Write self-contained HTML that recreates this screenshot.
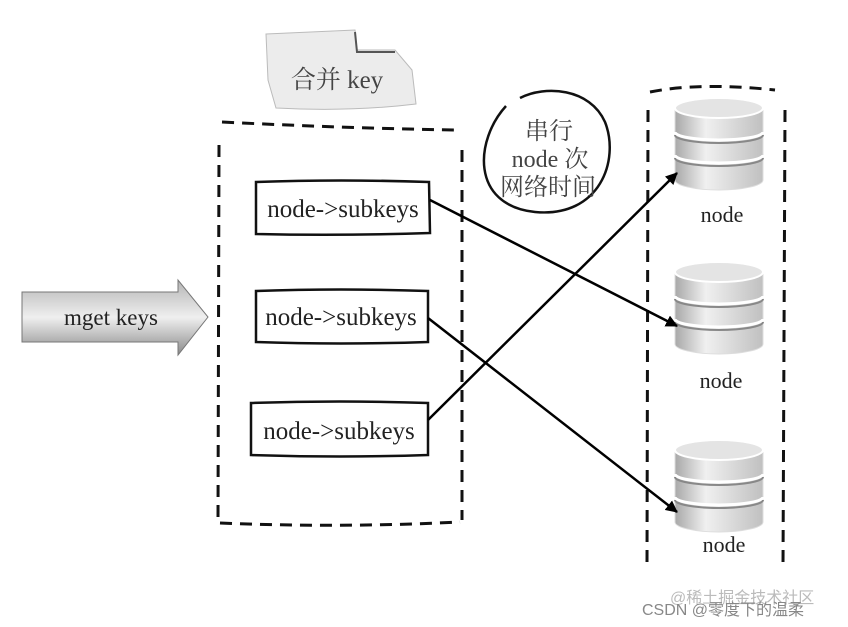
<!DOCTYPE html>
<html><head><meta charset="utf-8"><style>
body{margin:0;background:#fff;}
svg{display:block;}
.s{font-family:"Liberation Serif","Noto Serif CJK SC",serif;}
</style></head><body>
<svg width="848" height="627" viewBox="0 0 848 627" xmlns="http://www.w3.org/2000/svg">
<defs>
<linearGradient id="g" x1="0" x2="1" y1="0" y2="0">
<stop offset="0" stop-color="#a8a8a8"/><stop offset="0.35" stop-color="#f0f0f0"/><stop offset="1" stop-color="#c0c0c0"/>
</linearGradient>
<linearGradient id="ag" x1="0" x2="0" y1="0" y2="1">
<stop offset="0" stop-color="#b5b5b5"/><stop offset="0.5" stop-color="#efefef"/><stop offset="1" stop-color="#8a8a8a"/>
</linearGradient>
<marker id="m" markerWidth="12" markerHeight="12" refX="11" refY="6" orient="auto" markerUnits="userSpaceOnUse" viewBox="0 0 12 12">
<path d="M0,0 L12,6 L0,12 z" fill="#000"/>
</marker>
<g id="cyl">
<path d="M0,10 L0,82 A44,10 0 0 0 88,82 L88,10 Z" fill="url(#g)" stroke="#ddd"/>
<ellipse cx="44" cy="10" rx="44" ry="10" fill="#e4e4e4" stroke="#fff" stroke-width="2"/>
<path d="M0,34 A44,8 0 0 0 88,34" fill="none" stroke="#fff" stroke-width="3"/>
<path d="M0,37 A44,8 0 0 0 88,37" fill="none" stroke="#888" stroke-width="2"/>
<path d="M0,57 A44,8 0 0 0 88,57" fill="none" stroke="#fff" stroke-width="3"/>
<path d="M0,60 A44,8 0 0 0 88,60" fill="none" stroke="#888" stroke-width="2"/>
</g>
</defs>

<path d="M266,34 L355,30 L357,50 L395,50 L412,70 L416,104 Q350,112 276,108 L268,80 Z" fill="#ececec" stroke="#bbb"/>
<path d="M355,32 L357,52 L395,52" fill="none" stroke="#555" stroke-width="2"/>
<text x="337" y="88" class="s" font-size="25" fill="#444" text-anchor="middle">合并 key</text>

<g stroke="#111" stroke-width="3" stroke-dasharray="12,8" fill="none">
<path d="M222,122 Q340,128 455,130"/>
<path d="M219,145 L218,520"/>
<path d="M462,150 L462,520"/>
<path d="M220,523 Q340,528 460,522"/>
<path d="M650,92 Q700,82 775,90"/>
<path d="M648,110 L647,567"/>
<path d="M785,110 L783,567"/>
</g>

<g stroke="#111" stroke-width="2.5" fill="#fff">
<path d="M256,182 Q340,179 429,182 L430,233 Q340,236 256,234 Z"/>
<path d="M256,291 Q340,288 428,291 L428,342 Q340,345 256,342 Z"/>
<path d="M251,403 Q340,400 428,403 L428,455 Q340,458 251,455 Z"/>
</g>
<g class="s" font-size="25" fill="#222" text-anchor="middle">
<text x="343" y="217">node-&gt;subkeys</text>
<text x="341" y="325">node-&gt;subkeys</text>
<text x="339" y="439">node-&gt;subkeys</text>
</g>

<path d="M22,292 L178,292 L178,280 L208,317 L178,355 L178,342 L22,342 Z" fill="url(#ag)" stroke="#777"/>
<text x="111" y="325" class="s" font-size="23" fill="#222" text-anchor="middle">mget keys</text>

<path d="M506,106 C475,140 470,205 535,212 C600,218 620,160 605,122 C590,88 545,85 520,98" fill="none" stroke="#111" stroke-width="2.5"/>
<g class="s" font-size="24" fill="#444" text-anchor="middle">
<text x="549" y="139">串行</text>
<text x="550" y="167">node 次</text>
<text x="548" y="195">网络时间</text>
</g>

<use href="#cyl" x="675" y="98"/>
<use href="#cyl" x="675" y="262"/>
<use href="#cyl" x="675" y="440"/>
<g class="s" font-size="22" fill="#222" text-anchor="middle">
<text x="722" y="222">node</text>
<text x="721" y="388">node</text>
<text x="724" y="552">node</text>
</g>

<g stroke="#000" stroke-width="2.5" marker-end="url(#m)">
<line x1="430" y1="200" x2="677" y2="326"/>
<line x1="428" y1="318" x2="677" y2="512"/>
<line x1="428" y1="420" x2="677" y2="173"/>
</g>

<text x="670" y="603" font-family="Liberation Sans,Noto Sans CJK SC,sans-serif" font-size="16" fill="#bbb">@稀土掘金技术社区</text>
<text x="642" y="615" font-family="Liberation Sans,Noto Sans CJK SC,sans-serif" font-size="16" fill="#888">CSDN @零度下的温柔</text>
</svg>
</body></html>
